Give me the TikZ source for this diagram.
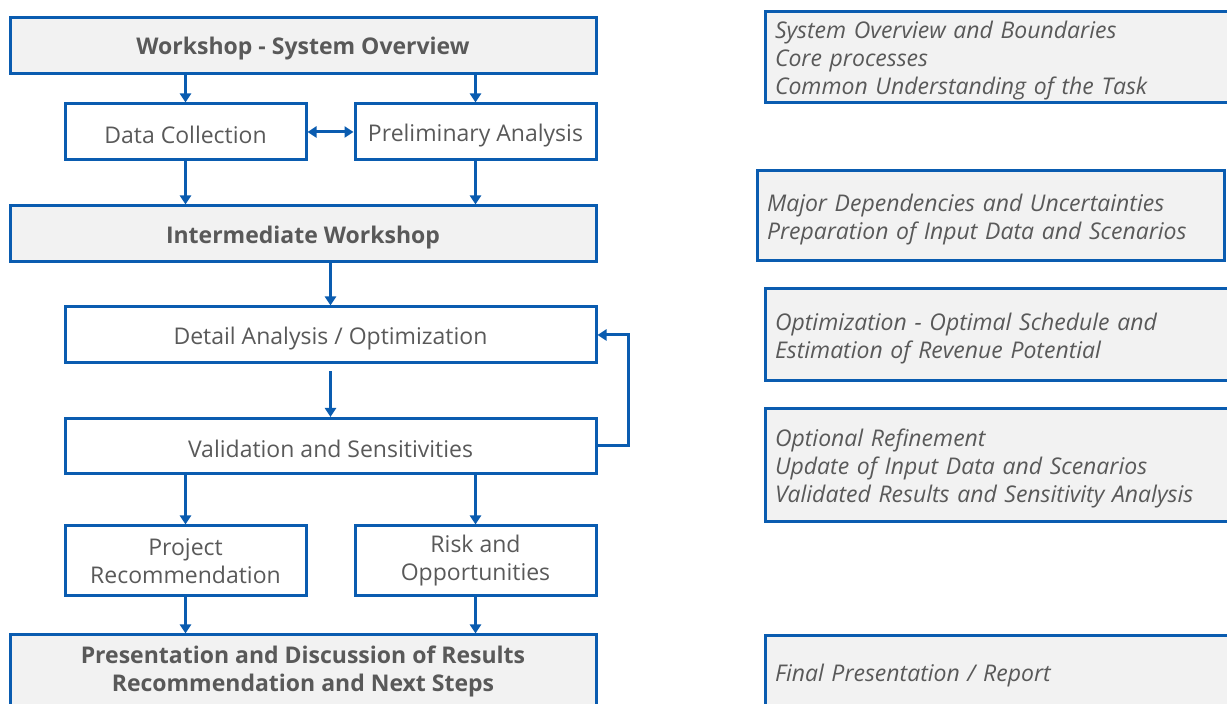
\documentclass[tikz,border=0pt]{standalone}
\usepackage{fontspec}
\setmainfont{Open Sans}
\usetikzlibrary{positioning}
\usetikzlibrary{arrows.meta}
\definecolor{boxblue}{RGB}{10,92,176}
\definecolor{boxgrey}{RGB}{242,242,242}
\definecolor{txtgrey}{RGB}{89,89,89}
\tikzset{
  stepbox/.style={draw=boxblue, line width=1.5pt, text=txtgrey, minimum width=120.5pt,
    minimum height=28pt, inner sep=0pt, align=center, font=\fontsize{11.5}{14}\selectfont,
    execute at begin node=\rule{0pt}{11.8pt}},
  wsbox/.style={stepbox, fill=boxgrey, minimum width=293pt, font=\fontsize{11.5}{14}\selectfont\bfseries},
  notebox/.style={draw=boxblue, line width=1.5pt, fill=boxgrey, text=txtgrey, text width=223.5pt,
    inner xsep=5pt, inner ysep=0pt, align=left, font=\fontsize{11.5}{14}\selectfont\itshape,
    execute at begin node=\rule{0pt}{11.8pt}},
  link/.style={draw=boxblue, line width=1.5pt, -{Triangle[width=5.5pt,length=4.5pt]}},
}
\begin{document}
\begin{tikzpicture}[x=0.5pt,y=-0.5pt]
            \useasboundingbox (0,0) rectangle (1227,704);
            \clip (0,0) rectangle (1227,704);

            \node[wsbox] (ws) at (303,45.5) {Workshop - System Overview};
            \node[stepbox] (dc) at (185.5,132) {Data Collection};
            \node[stepbox] (pa) at (475.5,132) {Preliminary Analysis};
            \node[wsbox] (iw) at (303,234) {Intermediate Workshop};
            \node[stepbox,minimum width=265.5pt] (da) at (330.5,335) {Detail Analysis / Optimization};
            \node[stepbox,minimum width=265.5pt,minimum height=27.5pt] (vs) at (330.5,446) {Validation and Sensitivities};
            \node[stepbox,minimum height=35pt] (pr) at (185.5,561) {Project\\Recommendation};
            \node[stepbox,minimum height=35pt] (ro) at (475.5,561) {Risk and\\Opportunities};
            \node[wsbox,minimum height=36.5pt] (pd) at (303,671.5) {Presentation and Discussion of Results\\Recommendation and Next Steps};

            \node[notebox,minimum height=45.5pt] (n1) at (998.5,57.5) {System Overview and Boundaries\\Core processes\\Common Understanding of the Task};
            \node[notebox,minimum height=45pt] (n2) at (990.5,216) {Major Dependencies and Uncertainties\\Preparation of Input Data and Scenarios};
            \node[notebox,minimum height=46pt] (n3) at (998.5,335) {Optimization - Optimal Schedule and\\Estimation of Revenue Potential};
            \node[notebox,minimum height=56.5pt] (n4) at (998.5,465.5) {Optional Refinement\\Update of Input Data and Scenarios\\Validated Results and Sensitivity Analysis};
            \node[notebox,minimum height=36pt] (n5) at (998.5,672) {Final Presentation / Report};

            \coordinate (loop) at (628,446);

            \draw[link] (dc.north |- ws.south) -- (dc.north);
            \draw[link] (pa.north |- ws.south) -- (pa.north);
            \draw[link,{Triangle[width=5.5pt,length=4.5pt]}-{Triangle[width=5.5pt,length=4.5pt]}] (dc.east) -- (pa.west);
            \draw[link] (dc.south) -- (dc.south |- iw.north);
            \draw[link] (pa.south) -- (pa.south |- iw.north);
            \draw[link] (da.north |- iw.south) -- (da.north);
            \draw[link,shorten <=3.5pt] (da.south) -- (vs.north);
            \draw[link] (vs.east) -- (loop) |- (da.east);
            \draw[link] (pr.north |- vs.south) -- (pr.north);
            \draw[link] (ro.north |- vs.south) -- (ro.north);
            \draw[link] (pr.south) -- (pr.south |- pd.north);
            \draw[link] (ro.south) -- (ro.south |- pd.north);
\end{tikzpicture}
\end{document}
